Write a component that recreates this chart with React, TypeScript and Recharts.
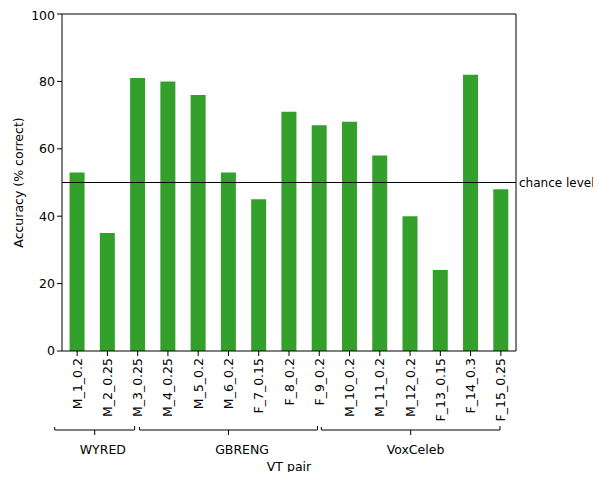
import { Bar, BarChart, Label, ReferenceLine, XAxis, YAxis } from 'recharts';

const pairs = [
  'M_1_0.2',
  'M_2_0.25',
  'M_3_0.25',
  'M_4_0.25',
  'M_5_0.2',
  'M_6_0.2',
  'F_7_0.15',
  'F_8_0.2',
  'F_9_0.2',
  'M_10_0.2',
  'M_11_0.2',
  'M_12_0.2',
  'F_13_0.15',
  'F_14_0.3',
  'F_15_0.25'
];

const accuracy = [53, 35, 81, 80, 76, 53, 45, 71, 67, 68, 58, 40, 24, 82, 48];

const yTicks = [0, 20, 40, 60, 80, 100];

// corpus brackets under the tick labels, in category-index units
const groupNames = ['WYRED', 'GBRENG', 'VoxCeleb'];
const groupStart = [-0.74, 2.06, 8.07];
const groupEnd = [1.9, 7.94, 13.97];
const groupLabelAt = [0.85, 5.45, 11.18];

const chanceLevel = 50;

const data = pairs.map((name, i) => ({ name, acc: accuracy[i] }));

const W = 585;
const H = 464;
const margin = { top: 5, right: 76, left: 0, bottom: 0 };
const yAxisWidth = 54;
const xAxisHeight = 121;
const step = (W - margin.left - margin.right - yAxisWidth - 1) / pairs.length;

const font = 'DejaVu Sans';
const fs = 12.5;

function PairTick(props: any) {
  const { x, y, payload, index } = props;
  const bracketY = y + 72;
  return (
    <g>
      <text
        x={x}
        y={y}
        transform={`rotate(-90 ${x} ${y})`}
        textAnchor='end'
        dominantBaseline='central'
        fontFamily={font}
        fontSize={fs}
        fill='#000'>
        {payload.value}
      </text>
      {index === 0 &&
        groupNames.map((g, i) => {
          const x1 = x + groupStart[i] * step;
          const x2 = x + groupEnd[i] * step;
          const xm = (x1 + x2) / 2;
          return (
            <g key={g}>
              <path
                d={`M${x1},${bracketY - 3} L${x1},${bracketY} L${x2},${bracketY} L${x2},${bracketY - 4} M${xm},${bracketY} L${xm},${bracketY + 5}`}
                stroke='#000'
                strokeWidth={1}
                fill='none'
              />
              <text
                x={x + groupLabelAt[i] * step}
                y={bracketY + 19}
                textAnchor='middle'
                dominantBaseline='central'
                fontFamily={font}
                fontSize={fs}
                fill='#000'>
                {g}
              </text>
            </g>
          );
        })}
    </g>
  );
}

export default function App() {
  return (
    <BarChart width={W} height={H} data={data} margin={margin} barCategoryGap='25%'>
      <XAxis
        dataKey='name'
        interval={0}
        height={xAxisHeight}
        tick={<PairTick />}
        tickSize={5}
        tickMargin={2}
        stroke='#000'>
        <Label
          content={({ viewBox }: any) => (
            <text
              x={viewBox.x + viewBox.width / 2}
              y={viewBox.y + viewBox.height - 6}
              textAnchor='middle'
              dominantBaseline='central'
              fontFamily={font}
              fontSize={fs}
              fill='#000'>
              VT pair
            </text>
          )}
        />
      </XAxis>
      <XAxis xAxisId='top' dataKey='name' orientation='top' height={1} tick={false} tickLine={false} stroke='#000' />
      <YAxis
        domain={[0, 100]}
        ticks={yTicks}
        width={yAxisWidth}
        tickSize={5}
        tickMargin={2}
        stroke='#000'
        tick={{ fill: '#000', fontFamily: font, fontSize: fs }}>
        <Label
          content={({ viewBox }: any) => {
            const lx = viewBox.x + 10;
            const ly = viewBox.y + viewBox.height / 2;
            return (
              <text
                x={lx}
                y={ly}
                transform={`rotate(-90 ${lx} ${ly})`}
                textAnchor='middle'
                dominantBaseline='central'
                fontFamily={font}
                fontSize={fs}
                fill='#000'>
                Accuracy (% correct)
              </text>
            );
          }}
        />
      </YAxis>
      <YAxis yAxisId='right' orientation='right' width={1} tick={false} tickLine={false} stroke='#000' />
      <Bar dataKey='acc' fill='#33a02c' isAnimationActive={false} />
      <ReferenceLine
        y={chanceLevel}
        stroke='#000'
        strokeWidth={1.2}
        label={{ value: 'chance level', position: 'right', offset: 3, fill: '#000', fontFamily: font, fontSize: 12 }}
      />
    </BarChart>
  );
}
